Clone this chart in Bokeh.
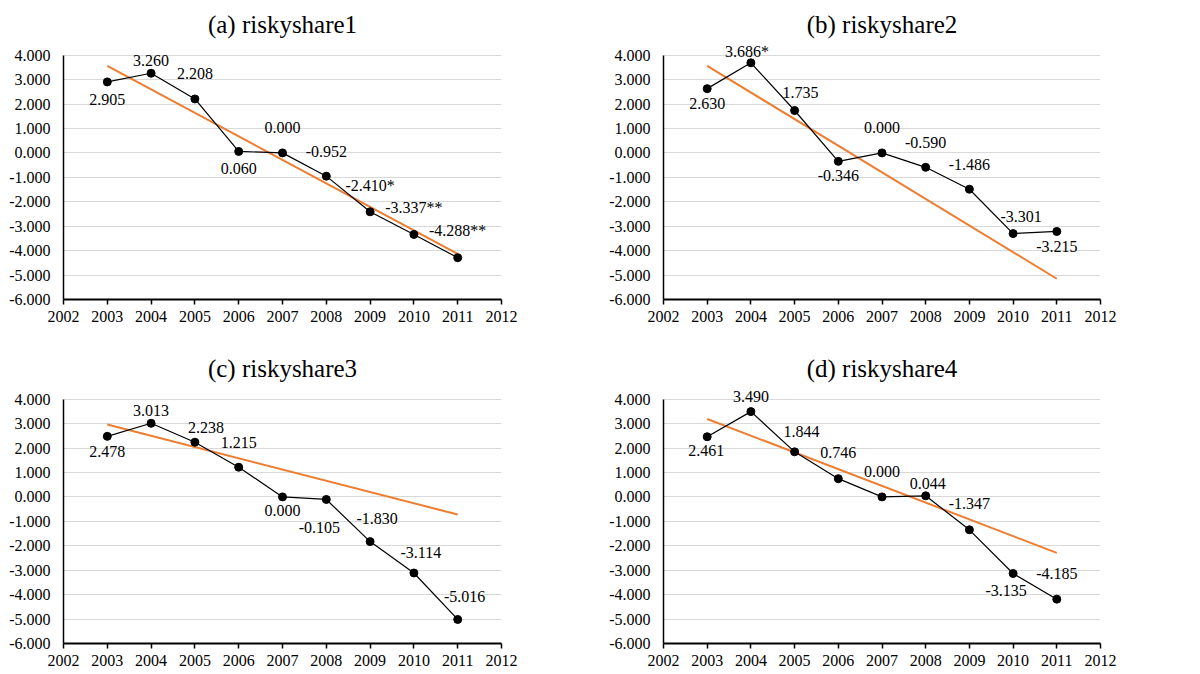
from bokeh.plotting import figure
from bokeh.layouts import gridplot
from bokeh.models import ColumnDataSource, FixedTicker, NumeralTickFormatter, Range1d, LabelSet
from bokeh.embed import file_html
from bokeh.resources import INLINE

# ---------------- data ----------------
years = [2003, 2004, 2005, 2006, 2007, 2008, 2009, 2010, 2011]

titles = ["(a) riskyshare1", "(b) riskyshare2", "(c) riskyshare3", "(d) riskyshare4"]

riskyshare1 = [2.905, 3.260, 2.208, 0.060, 0.000, -0.952, -2.410, -3.337, -4.288]
riskyshare2 = [2.630, 3.686, 1.735, -0.346, 0.000, -0.590, -1.486, -3.301, -3.215]
riskyshare3 = [2.478, 3.013, 2.238, 1.215, 0.000, -0.105, -1.830, -3.114, -5.016]
riskyshare4 = [2.461, 3.490, 1.844, 0.746, 0.000, 0.044, -1.347, -3.135, -4.185]

stars1 = ["", "", "", "", "", "", "*", "**", "**"]
stars2 = ["", "*", "", "", "", "", "", "", ""]
stars3 = ["", "", "", "", "", "", "", "", ""]
stars4 = ["", "", "", "", "", "", "", "", ""]

# trend line end points (2003, 2011)
trend_years = [2003, 2011]
trend1 = [3.56, -4.13]
trend2 = [3.56, -5.15]
trend3 = [2.96, -0.72]
trend4 = [3.19, -2.29]

x_ticks = [2002, 2003, 2004, 2005, 2006, 2007, 2008, 2009, 2010, 2011, 2012]
y_ticks = [-6, -5, -4, -3, -2, -1, 0, 1, 2, 3, 4]

# ---------------- label placement (pixel offsets dx, dy; dy positive = down) ----------------
offsets1 = [(0, 18), (0, -13), (0, -25), (0, 17), (0, -25), (0, -25), (0, -26), (0, -27), (0, -27)]
offsets2 = [(0, 15), (-4, -11), (6, -18), (0, 14), (0, -25), (0, -25), (0, -25), (8, -17), (0, 15)]
offsets3 = [(0, 15), (0, -13), (11, -15), (0, -25), (0, 14), (-7, 28), (7, -23), (7, -20), (7, -23)]
offsets4 = [(-1, 14), (0, -15), (7, -20), (0, -26), (0, -25), (2, -12), (0, -26), (-7, 17), (0, -26)]

series = [riskyshare1, riskyshare2, riskyshare3, riskyshare4]
stars = [stars1, stars2, stars3, stars4]
trends = [trend1, trend2, trend3, trend4]
offsets = [offsets1, offsets2, offsets3, offsets4]

FONT = "Liberation Serif"
ORANGE = "#ED7D31"
Y_TOP = 4.6   # headroom above the 4.000 gridline for data labels

W = 596
geo = [
    dict(left=63, right=W - 63 - 438, top=40, bottom=38, height=337, standoff=6),
    dict(left=67, right=W - 67 - 437, top=40, bottom=38, height=337, standoff=6),
    dict(left=63, right=W - 63 - 438, top=47, bottom=30, height=336, standoff=6),
    dict(left=67, right=W - 67 - 437, top=47, bottom=30, height=336, standoff=6),
]

figs = []
for i in range(4):
    g = geo[i]
    p = figure(width=W, height=g["height"], output_backend="svg", toolbar_location=None,
               x_range=Range1d(2002, 2012), y_range=Range1d(-6, Y_TOP),
               min_border_left=g["left"], min_border_right=g["right"],
               min_border_top=g["top"], min_border_bottom=g["bottom"],
               title=titles[i])
    p.title.text_font = FONT
    p.title.text_font_size = "25px"
    p.title.text_font_style = "normal"
    p.title.align = "center"
    p.title.text_color = "black"
    p.title.standoff = g["standoff"]
    p.outline_line_color = None
    p.background_fill_color = "white"
    p.border_fill_color = "white"

    # axes
    p.xaxis.ticker = FixedTicker(ticks=x_ticks)
    p.yaxis.ticker = FixedTicker(ticks=y_ticks)
    p.yaxis.formatter = NumeralTickFormatter(format="0.000")
    p.yaxis.bounds = (-6, 4)
    for ax in (p.xaxis, p.yaxis):
        ax.major_label_text_font = FONT
        ax.major_label_text_font_size = "16px"
        ax.major_label_text_color = "black"
        ax.axis_line_color = "black"
        ax.minor_tick_line_color = None
        ax.major_tick_in = 0
    p.xaxis.axis_line_width = 2
    p.yaxis.axis_line_width = 1.5
    p.xaxis.major_tick_out = 5
    p.xaxis.major_tick_line_color = "black"
    p.xaxis.major_tick_line_width = 1.5
    p.xaxis.major_label_standoff = 6
    p.yaxis.major_tick_out = 0
    p.yaxis.major_tick_line_color = None
    p.yaxis.major_label_standoff = 13

    p.xgrid.grid_line_color = None
    p.ygrid.grid_line_color = "#d9d9d9"
    p.ygrid.grid_line_width = 1
    p.ygrid.ticker = FixedTicker(ticks=[-5, -4, -3, -2, -1, 0, 1, 2, 3, 4])

    vals = series[i]
    labels = ["%.3f%s" % (v, s) for v, s in zip(vals, stars[i])]
    dx = [o[0] for o in offsets[i]]
    dy = [-o[1] for o in offsets[i]]   # LabelSet: positive y_offset moves up
    src = ColumnDataSource(dict(x=years, y=vals, label=labels, dx=dx, dy=dy))

    p.line(trend_years, trends[i], line_color=ORANGE, line_width=2)
    p.line("x", "y", source=src, line_color="black", line_width=1.2)
    p.scatter("x", "y", source=src, size=8, fill_color="black", line_color="black")
    p.add_layout(LabelSet(x="x", y="y", text="label", source=src, x_offset="dx", y_offset="dy",
                          text_align="center", text_baseline="middle",
                          text_font=FONT, text_font_size="16px", text_color="black"))
    figs.append(p)

grid = gridplot([[figs[0], figs[1]], [figs[2], figs[3]]], toolbar_location=None)

open("out.html", "w").write(file_html(grid, INLINE))
